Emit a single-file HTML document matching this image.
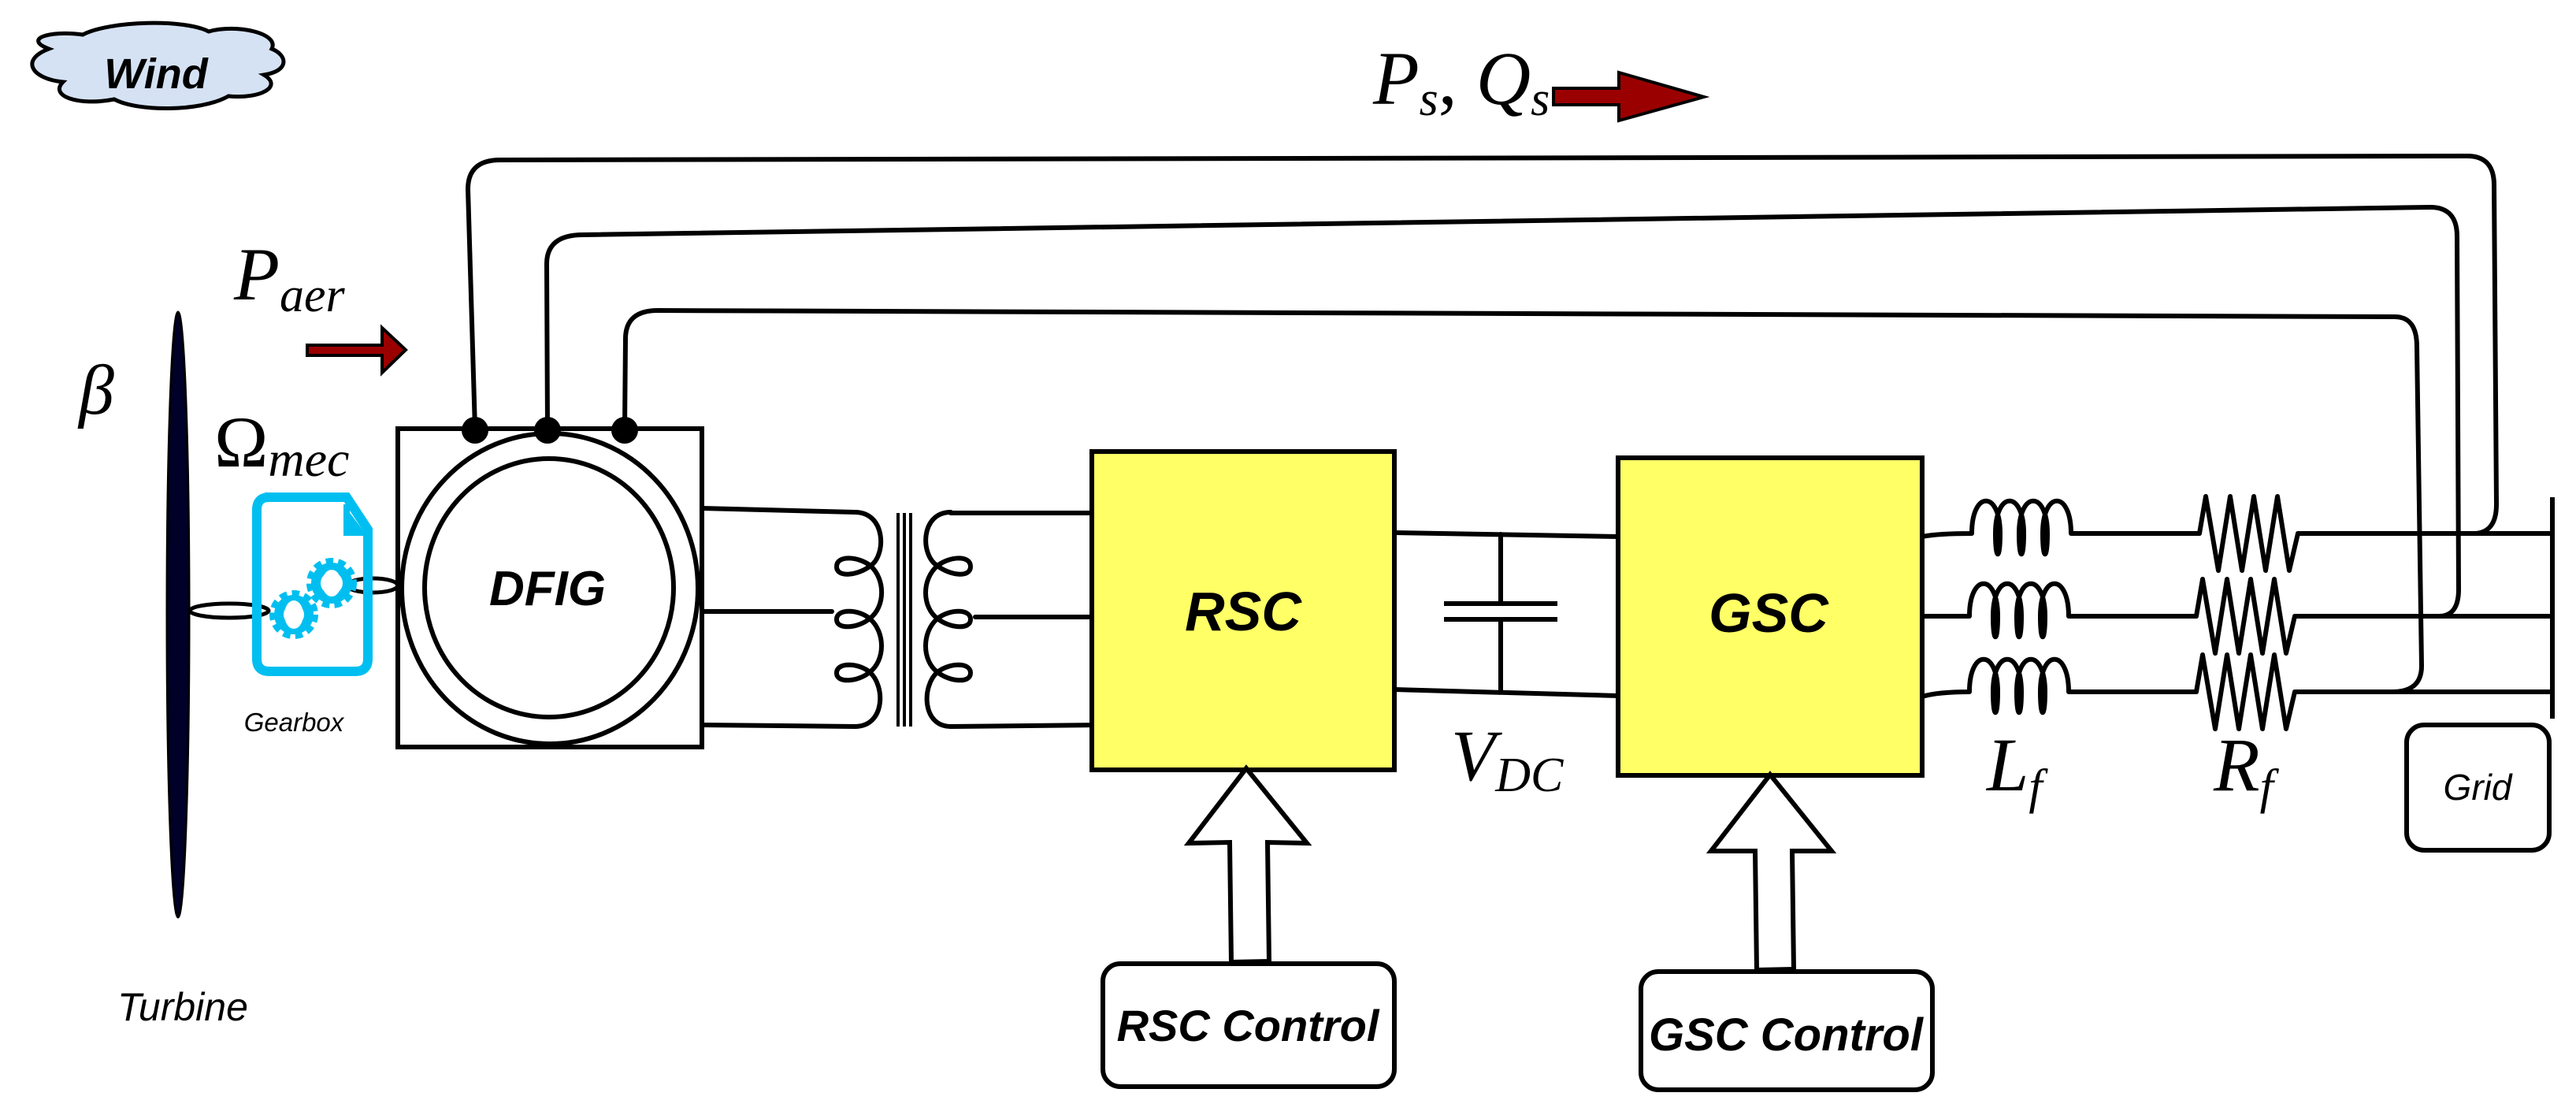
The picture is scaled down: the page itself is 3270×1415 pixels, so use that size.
<!DOCTYPE html>
<html><head><meta charset="utf-8"><style>
html,body{margin:0;padding:0;background:#fff;}
svg{display:block;}
.w{fill:none;stroke:#000;stroke-width:6;stroke-linejoin:round;stroke-linecap:round;}
.m{font-family:"Liberation Serif",serif;font-style:italic;fill:#000;}
.s{font-family:"Liberation Sans",sans-serif;font-style:italic;fill:#000;}
</style></head><body>
<svg width="3270" height="1415" viewBox="0 0 3270 1415" xmlns="http://www.w3.org/2000/svg">
<!-- cloud -->
<path d="M62,62 C30,50 60,38 105,44 C140,26 235,24 265,40 C300,30 355,42 345,62 C365,70 368,90 335,95 C360,110 330,126 290,122 C255,142 175,142 145,126 C100,135 62,122 80,104 C40,100 25,76 62,62 Z" fill="#d5e2f4" stroke="#000" stroke-width="5"/>
<text x="198" y="112" class="s" font-weight="bold" font-size="54" text-anchor="middle">Wind</text>

<!-- labels -->
<text x="100" y="525" class="m" font-size="90">β</text>
<text x="297" y="380" class="m" font-size="95">P<tspan font-size="62" dy="15">aer</tspan></text>
<text x="272" y="592" font-family="Liberation Serif,serif" font-size="92">Ω<tspan class="m" font-style="italic" font-size="64" dy="12">mec</tspan></text>
<polygon points="390,438 485,438 485,416 515,444 485,473 485,451 390,451" fill="#9b0000" stroke="#000" stroke-width="4"/>

<!-- blade -->
<ellipse cx="226" cy="780" rx="14" ry="384" fill="#000028" stroke="#000" stroke-width="3"/>
<ellipse cx="291" cy="775" rx="50" ry="9" fill="none" stroke="#000" stroke-width="5"/>
<ellipse cx="473" cy="743" rx="32" ry="9" fill="none" stroke="#000" stroke-width="5"/>

<!-- gearbox icon -->
<path d="M336,631 L440,631 L467,672 L467,836 Q467,852 451,852 L342,852 Q326,852 326,836 L326,647 Q326,631 342,631 Z" fill="none" stroke="#00bff0" stroke-width="12"/>
<polygon points="436,640 436,680 466,680" fill="#00bff0"/>
<rect x="436" y="640" width="8" height="40" fill="#00bff0"/>
<circle cx="421" cy="740" r="27" fill="none" stroke="#00bff0" stroke-width="10" stroke-dasharray="9 6"/>
<circle cx="421" cy="740" r="20" fill="none" stroke="#00bff0" stroke-width="12"/>
<ellipse cx="421" cy="740" rx="12" ry="17" fill="#fff"/>
<circle cx="373" cy="780" r="26" fill="none" stroke="#00bff0" stroke-width="10" stroke-dasharray="9 6"/>
<circle cx="373" cy="780" r="19" fill="none" stroke="#00bff0" stroke-width="12"/>
<ellipse cx="373" cy="780" rx="12" ry="18" fill="#fff"/>
<text x="373" y="928" class="s" font-size="33" text-anchor="middle">Gearbox</text>
<text x="232" y="1295" class="s" font-size="50" text-anchor="middle">Turbine</text>

<!-- DFIG -->
<rect x="505" y="544" width="386" height="404" fill="#fff" stroke="#000" stroke-width="6"/>
<ellipse cx="698" cy="747" rx="188" ry="197" fill="none" stroke="#000" stroke-width="6"/>
<ellipse cx="697" cy="746" rx="158" ry="164" fill="none" stroke="#000" stroke-width="6"/>
<text x="695" y="768" class="s" font-weight="bold" font-size="62" text-anchor="middle">DFIG</text>

<!-- stator wires -->
<path class="w" d="M603,544 L594,240 Q594,203 635,203 L3132,198 Q3166,198 3166,235 L3169,640 Q3169,676 3141,677"/>
<path class="w" d="M695,544 L694,335 Q694,298 740,298 L3085,263 Q3119,263 3119,300 L3121,748 Q3121,782 3096,782"/>
<path class="w" d="M793,544 L794,430 Q794,394 835,394 L3040,402 Q3068,402 3068,440 L3074,845 Q3074,878 3037,878"/>
<ellipse cx="603" cy="546" rx="17" ry="17"/>
<ellipse cx="695" cy="546" rx="17" ry="17"/>
<ellipse cx="793" cy="546" rx="17" ry="17"/>

<text x="1743" y="132" class="m" font-size="96">P<tspan font-size="62" dy="14">s</tspan><tspan dy="-14" font-style="normal">, </tspan>Q<tspan font-size="62" dy="14">s</tspan></text>
<polygon points="1972,112 2055,112 2055,92 2163,123 2055,153 2055,133 1972,133" fill="#9b0000" stroke="#000" stroke-width="4"/>

<!-- rotor lines to transformer -->
<path class="w" d="M891,645 L1085,650"/>
<path class="w" d="M891,776 L1056,776"/>
<path class="w" d="M891,920 L1085,922"/>
<!-- primary coil -->
<path class="w" d="M1085,650 C1125,650 1125,705 1105,718 C1090,730 1062,734 1062,719 C1062,704 1090,706 1105,718 C1124,735 1124,770 1104,785 C1090,797 1062,800 1062,786 C1062,772 1090,773 1104,785 C1124,802 1124,838 1104,853 C1090,865 1062,868 1062,854 C1062,840 1090,841 1104,853 C1124,870 1124,922 1085,922"/>
<!-- core -->
<path d="M1140,651 V922 M1148,651 V922 M1156,651 V922" stroke="#000" stroke-width="4"/>
<!-- secondary coil -->
<path class="w" d="M1207,650 C1168,650 1168,705 1190,718 C1205,730 1232,734 1232,719 C1232,704 1205,706 1190,718 C1170,735 1170,770 1190,785 C1205,797 1232,800 1232,786 C1232,772 1205,773 1190,785 C1170,802 1170,838 1190,853 C1205,865 1232,868 1232,854 C1232,840 1205,841 1190,853 C1170,870 1170,922 1207,922"/>
<path class="w" d="M1207,651 L1386,651"/>
<path class="w" d="M1238,783 L1386,783"/>
<path class="w" d="M1207,922 L1400,920"/>

<!-- RSC -->
<rect x="1386" y="573" width="384" height="404" fill="#ffff66" stroke="#000" stroke-width="6"/>
<text x="1578" y="800" class="s" font-weight="bold" font-size="70" text-anchor="middle">RSC</text>
<polygon points="1582,975 1659,1070 1609,1069 1611,1220 1563,1221 1561,1069 1509,1070" fill="#fff" stroke="#000" stroke-width="6" stroke-linejoin="miter"/>
<rect x="1400" y="1223" width="370" height="156" rx="22" fill="#fff" stroke="#000" stroke-width="6"/>
<text x="1584" y="1321" class="s" font-weight="bold" font-size="56" text-anchor="middle">RSC Control</text>

<!-- DC link -->
<path class="w" d="M1770,676 L2054,681"/>
<path class="w" d="M1770,875 L2054,883"/>
<path class="w" d="M1905,678 V766 M1905,786 V878"/>
<path d="M1833,766 H1977 M1833,786 H1977" stroke="#000" stroke-width="6"/>
<text x="1842" y="990" class="m" font-size="92">V<tspan font-size="62" dy="14">DC</tspan></text>

<!-- GSC -->
<rect x="2054" y="581" width="386" height="403" fill="#ffff66" stroke="#000" stroke-width="6"/>
<text x="2245" y="802" class="s" font-weight="bold" font-size="70" text-anchor="middle">GSC</text>
<polygon points="2247,983 2325,1080 2275,1080 2277,1230 2230,1231 2228,1080 2172,1080" fill="#fff" stroke="#000" stroke-width="6" stroke-linejoin="miter"/>
<rect x="2083" y="1233" width="370" height="150" rx="22" fill="#fff" stroke="#000" stroke-width="6"/>
<text x="2267" y="1333" class="s" font-weight="bold" font-size="58" text-anchor="middle">GSC Control</text>

<!-- filter rows -->
<g class="w">
<path d="M2440,681 Q2460,677 2503,677 C2503,622 2539,622 2539,677 C2539,712 2533,712 2533,677 C2533,622 2569,622 2569,677 C2569,712 2563,712 2563,677 C2563,622 2599,622 2599,677 C2599,712 2593,712 2593,677 C2593,622 2629,622 2629,677 L2792,677 L2800,630 L2816,724 L2831,630 L2846,724 L2861,630 L2876,724 L2891,630 L2906,724 L2917,677 L3240,677"/>
<path d="M2440,782 L2500,782 C2500,727 2536,727 2536,782 C2536,817 2530,817 2530,782 C2530,727 2566,727 2566,782 C2566,817 2560,817 2560,782 C2560,727 2596,727 2596,782 C2596,817 2590,817 2590,782 C2590,727 2626,727 2626,782 L2788,782 L2796,735 L2812,829 L2827,735 L2842,829 L2857,735 L2872,829 L2887,735 L2902,829 L2913,782 L3240,782"/>
<path d="M2440,884 Q2460,878 2500,878 C2500,823 2536,823 2536,878 C2536,913 2530,913 2530,878 C2530,823 2566,823 2566,878 C2566,913 2560,913 2560,878 C2560,823 2596,823 2596,878 C2596,913 2590,913 2590,878 C2590,823 2626,823 2626,878 L2788,878 L2796,831 L2812,925 L2827,831 L2842,925 L2857,831 L2872,925 L2887,831 L2902,925 L2913,878 L3240,878"/>
</g>
<path d="M3240,631 V912" stroke="#000" stroke-width="6"/>
<text x="2522" y="1003" class="m" font-size="96">L<tspan font-size="62" dy="16">f</tspan></text>
<text x="2810" y="1003" class="m" font-size="96">R<tspan font-size="62" dy="16">f</tspan></text>

<rect x="3055" y="920" width="181" height="159" rx="22" fill="#fff" stroke="#000" stroke-width="6"/>
<text x="3145" y="1015" class="s" font-size="46" text-anchor="middle">Grid</text>
</svg>
</body></html>
